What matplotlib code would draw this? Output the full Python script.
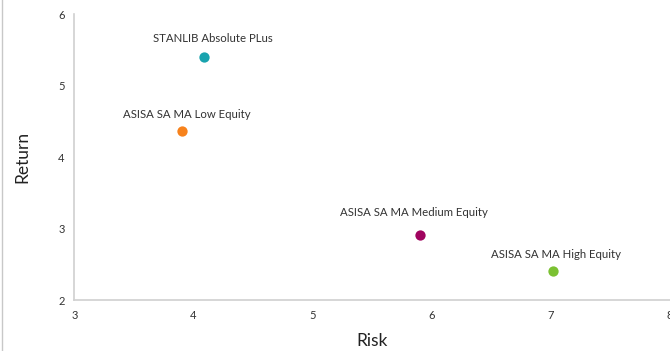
import matplotlib
matplotlib.use("Agg")
import matplotlib.pyplot as plt
from matplotlib.lines import Line2D

plt.rcParams['font.family'] = ['Lato', 'DejaVu Sans']

# fund data
funds = ['STANLIB Absolute PLus', 'ASISA SA MA Low Equity',
         'ASISA SA MA Medium Equity', 'ASISA SA MA High Equity']
risk = [4.09, 3.90, 5.90, 7.02]
ret = [5.40, 4.36, 2.91, 2.40]
colors = ['#19a3ae', '#f7821c', '#a0045f', '#7bc132']

# label offsets (points)
offsets = [(6, 9), (4, 8), (-4, 12), (2, 8)]

fig = plt.figure(figsize=(6.7, 3.51), dpi=100)
ax = fig.add_axes([0.111, 0.145, 0.889, 0.815])

for name, x, y, c, off in zip(funds, risk, ret, colors, offsets):
    ax.scatter(x, y, s=55, color=c, zorder=3, linewidths=0)
    ax.annotate(name, (x, y), xytext=off, textcoords='offset points',
                ha='center', va='bottom', fontsize=8.2, color='#333333')

ax.set_xlim(3, 8)
ax.set_ylim(2, 6)
ax.set_xticks([3, 4, 5, 6, 7, 8])
ax.set_yticks([2, 3, 4, 5, 6])
ax.tick_params(length=0, labelsize=8, labelcolor='#333333', pad=7)
for s in ['top', 'right']:
    ax.spines[s].set_visible(False)
for s in ['left', 'bottom']:
    ax.spines[s].set_color('#d0d0d0')
    ax.spines[s].set_linewidth(1.2)

ax.set_xlabel('Risk', fontsize=12.5, color='#222222', labelpad=9)
ax.set_ylabel('Return', fontsize=12.5, color='#222222', labelpad=20)

fig.add_artist(Line2D([0.003, 0.003], [0, 1], color='#c8c8c8', lw=1))

fig.savefig('out.png', dpi=100)
